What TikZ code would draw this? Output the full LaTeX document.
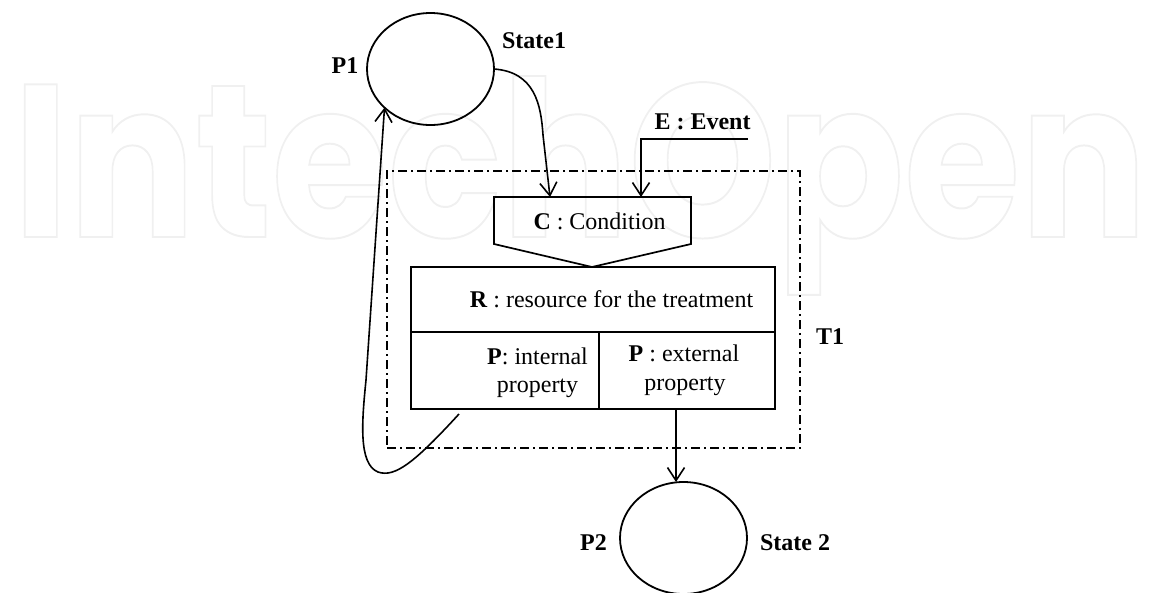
\documentclass[tikz,border=0pt]{standalone}
\usepackage{graphicx}
\usepackage{fontspec}
\setmainfont{Liberation Serif}
\newfontfamily\wmfont{Poppins}
\usetikzlibrary{arrows.meta,shapes.geometric}
\begin{document}
\begin{tikzpicture}[x=1pt,y=-1pt,
  every node/.style={inner sep=0pt, outer sep=0pt, font=\fontsize{24}{28}\selectfont},
  lbl/.style={anchor=base, font=\fontsize{24}{28}\selectfont\bfseries},
  txt/.style={anchor=base},
  edge/.style={line width=1.7pt},
  conn/.style={line width=1.6pt, -{Straight Barb[length=13pt,width=17pt]}},
  state/.style={draw, ellipse, line width=1.8pt, minimum width=127pt, minimum height=112pt},
  frame/.style={draw, line width=1.4pt, dash pattern=on 9pt off 4pt on 2pt off 4pt},
]
\useasboundingbox (0,0) rectangle (1150,592);
\clip (0,0) rectangle (1150,592);

% outlined watermark lettering, set at full size so the stroke is not scaled much
\node[anchor=base west, text=black!4] (wm) at (13,237)
  {\resizebox{1134pt}{161pt}{\fontsize{200}{200}\wmfont\bfseries\special{pdf:literal direct 1 Tr 1.8 w 0.94 G}IntechOpen}};

% places
\node[state] (P1) at (430.5,69) {};
\node[state] (P2) at (683.5,538) {};
\node[lbl] (P1lbl) at (345,73) {P1};
\node[lbl] (S1lbl) at (534,48) {State1};
\node[lbl] (P2lbl) at (593.5,550) {P2};
\node[lbl] (S2lbl) at (795,550) {State 2};

% transition frame
\node[frame, minimum width=413pt, minimum height=277pt] (T) at (593.5,309.5) {};
\node[lbl] (T1lbl) at (830,344) {T1};

% condition (pentagon with pointed bottom)
\coordinate (cNW) at (494,197);
\coordinate (cNE) at (691,197);
\coordinate (cSE) at (691,244);
\coordinate (cTip) at (592,267);
\coordinate (cSW) at (494,244);
\draw[edge, line join=miter] (cNW) -- (cNE) -- (cSE) -- (cTip) -- (cSW) -- cycle;
\node[txt] (cond) at (599.5,229) {\textbf{C} : Condition};
\coordinate (cin1) at (550,197);
\coordinate (cin2) at (641,197);

% resource box with two property cells
\node[draw, edge, minimum width=364pt, minimum height=142pt] (R) at (593,338) {};
\coordinate (split) at (599,332);
\draw[edge] (R.west |- split) -- (R.east |- split);
\draw[edge] (split) -- (split |- R.south);
\node[txt] (res) at (611.5,307) {\textbf{R} : resource for the treatment};
\node[txt] (int1) at (537.5,364) {\textbf{P}: internal};
\node[txt] (int2) at (537.5,392) {property};
\node[txt] (ext1) at (684,361) {\textbf{P} : external};
\node[txt] (ext2) at (685,390) {property};

% event input
\coordinate (evs) at (748,139);
\node[lbl] (Elbl) at (702.5,129) {E : Event};

% connectors
\draw[conn] (P1.east) .. controls (535,72) and (541,105) .. (543,135) -- (cin1);
\draw[conn] (evs) -| (cin2);
\coordinate (loopstart) at (459,414);
\draw[conn] (loopstart) .. controls (415,462) and (395,478) .. (378,472)
  .. controls (358,464) and (362,420) .. (366,380) -- (P1.220);
\coordinate (extout) at (676,409);
\draw[conn] (extout) -- (extout |- P2.north);
\end{tikzpicture}
\end{document}
